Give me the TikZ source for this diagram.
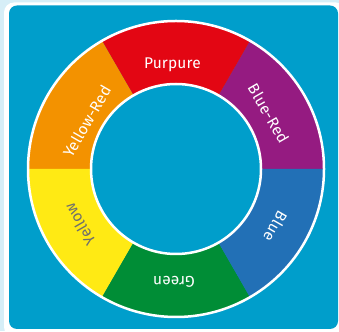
\documentclass[tikz,border=0pt]{standalone}
\usepackage{fontspec}
\setmainfont{Fira Sans}
\newfontfamily\wheelfont[LetterSpace=1]{Fira Sans}

\definecolor{paleblue}{HTML}{D6EEF7}
\definecolor{panelblue}{HTML}{009ECB}
\definecolor{purpure}{HTML}{E30613}
\definecolor{bluered}{HTML}{951B81}
\definecolor{blueseg}{HTML}{2270B6}
\definecolor{greenseg}{HTML}{008D36}
\definecolor{yellowseg}{HTML}{FFEA14}
\definecolor{yellowred}{HTML}{F39200}
\definecolor{darktext}{HTML}{6E6E6E}

\tikzset{
  seglabel/.style={font=\wheelfont\fontsize{15.5}{18}\selectfont, inner sep=0pt},
  ringline/.style={draw=white, line width=2.5pt},
}

\begin{document}
\begin{tikzpicture}[x=1pt,y=1pt]
\useasboundingbox (0,0) rectangle (339,331);
\fill[paleblue] (0,0) rectangle (339,331);
\fill[white, rounded corners=10pt] (4,-6) rectangle (346,328.5);
\fill[panelblue, rounded corners=8pt] (9,2) rectangle (338,325.5);

\begin{scope}[shift={(176,162)}]
% segments of the wheel, label angle and radius per segment
\foreach \a/\c/\t/\n/\tc/\la/\lr in {0/bluered/Blue-Red/bluered/white/31/108,
    60/purpure/Purpure/purpure/white/92/104,
    120/yellowred/Yellow-Red/yellowred/white/152/101,
    180/yellowseg/Yellow/yellow/darktext/210/111,
    240/greenseg/Green/green/white/269/113,
    300/blueseg/Blue/blue/white/-30/115}{
  \fill[\c] (\a:148) arc (\a:\a+60:148) -- (\a+60:85) arc (\a+60:\a:85) -- cycle;
  \node[seglabel, text=\tc, rotate=\a-60] (lbl-\n) at (\la:\lr) {\t};
}
\draw[ringline] (0,0) circle (148);
\draw[ringline] (0,0) circle (85);
\end{scope}
\end{tikzpicture}
\end{document}
